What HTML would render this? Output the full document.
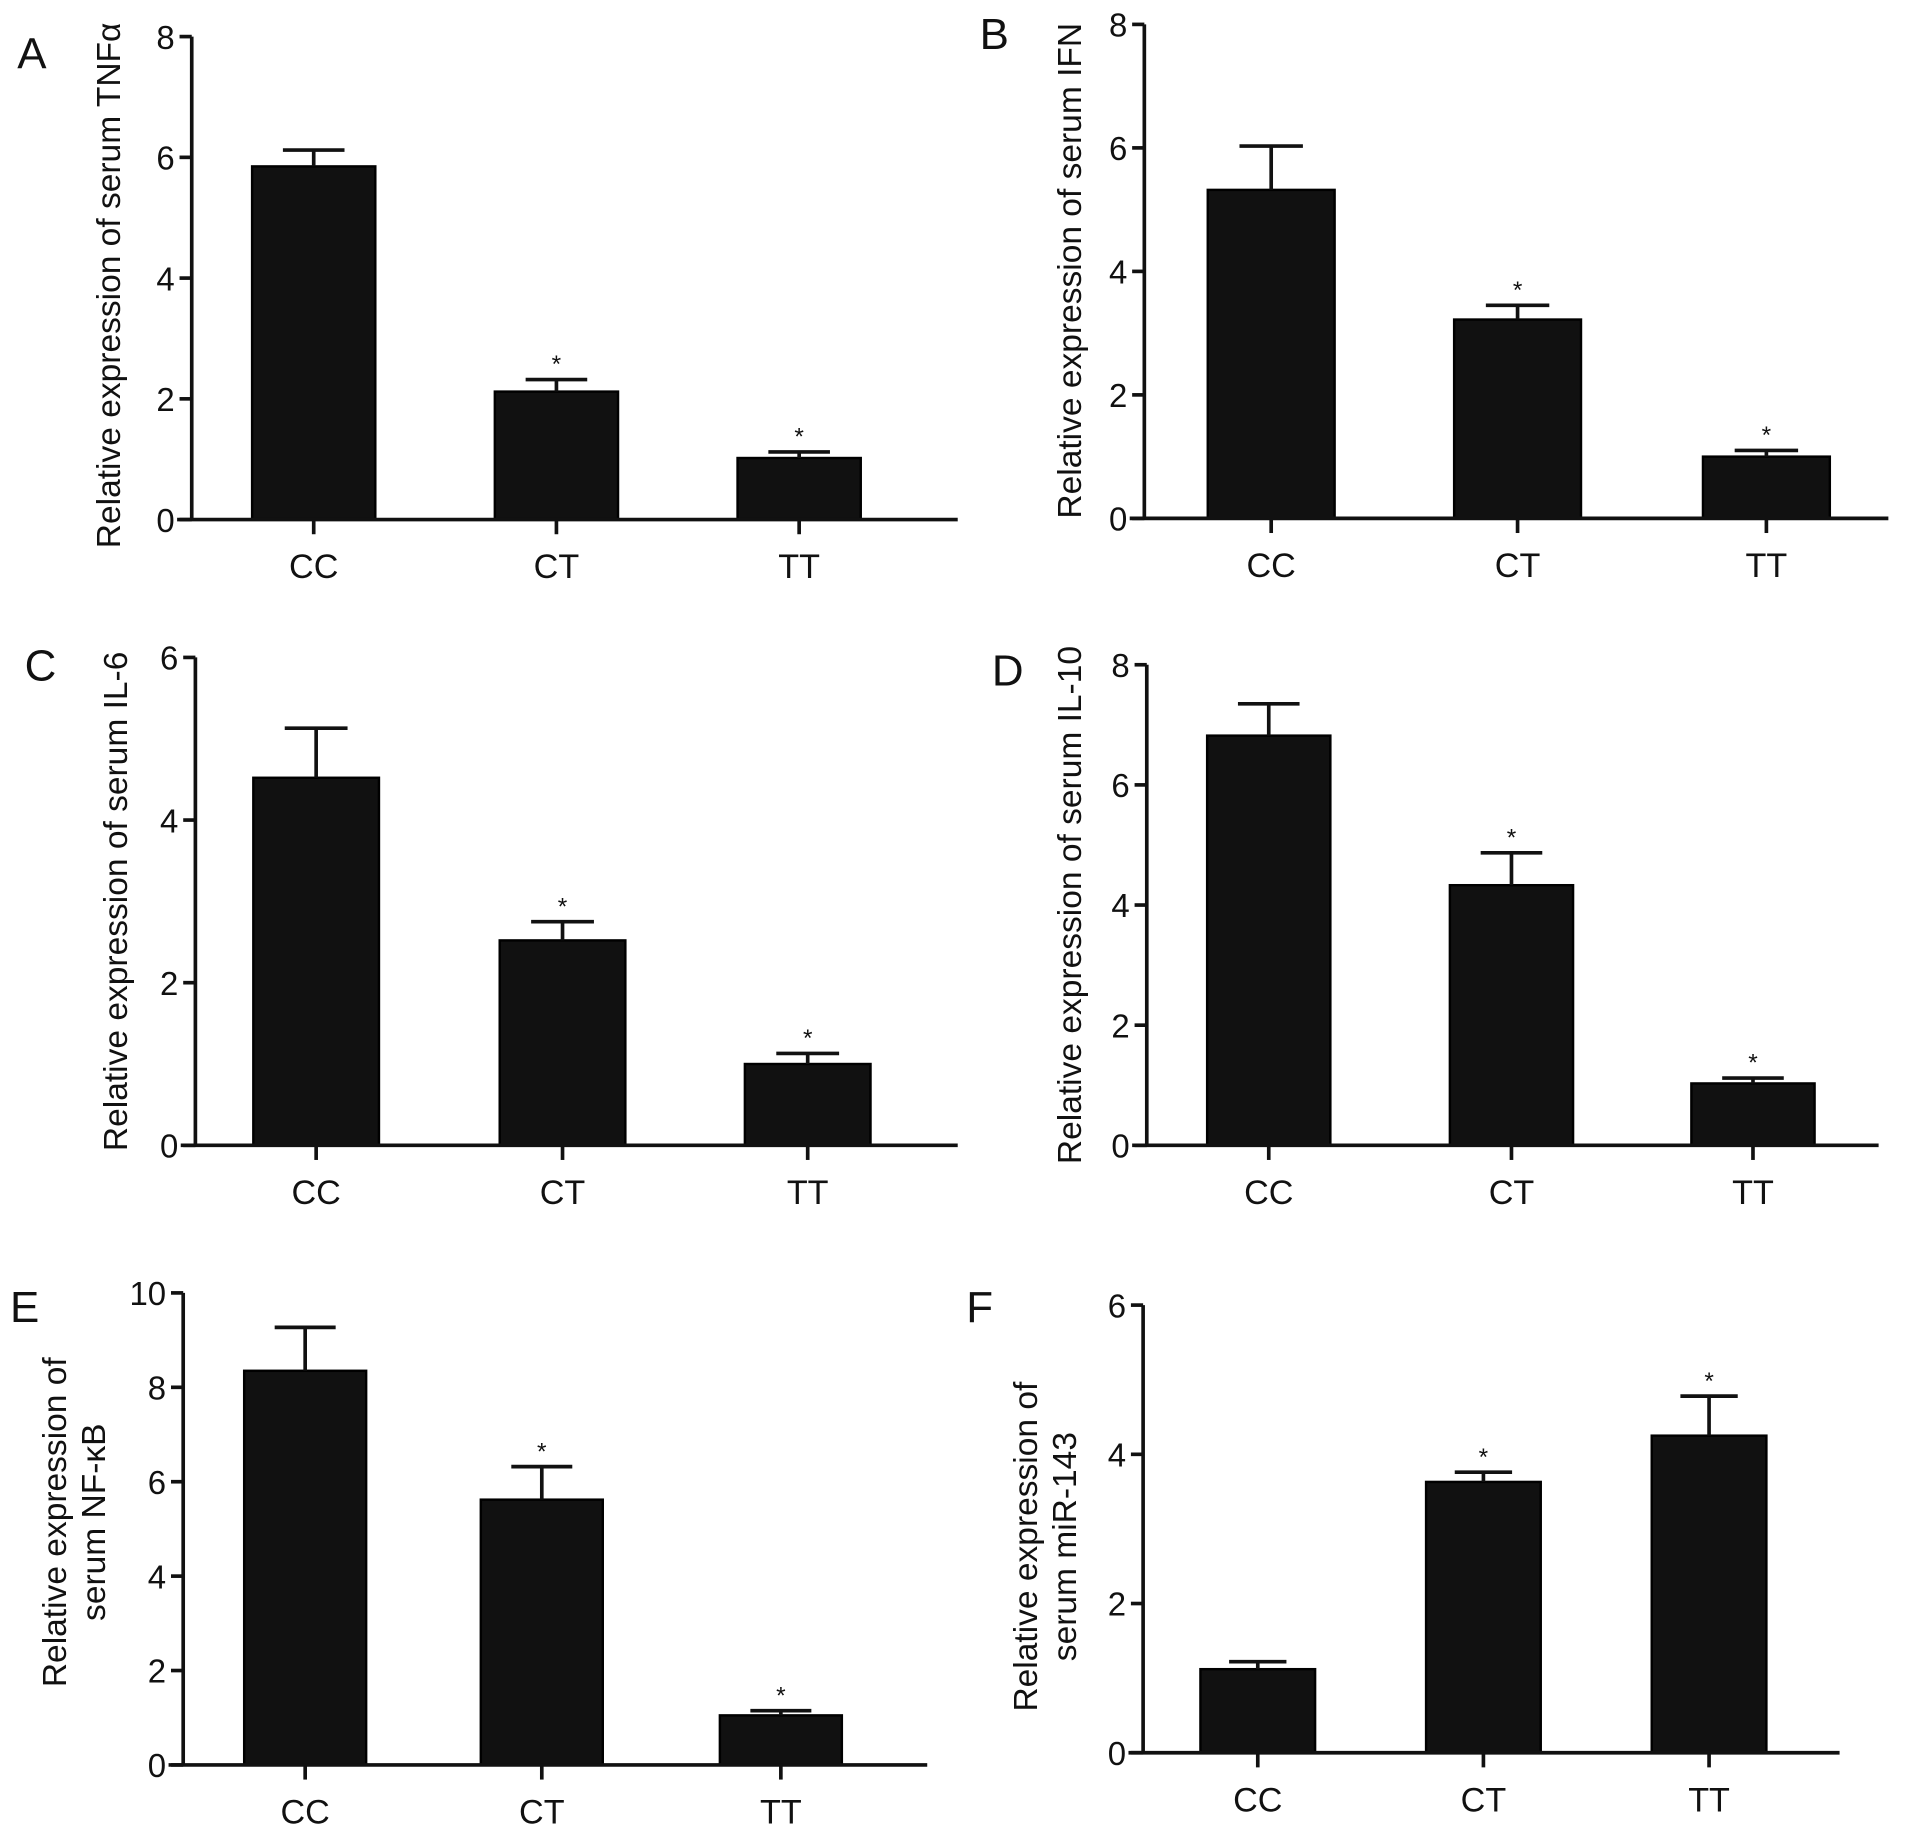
<!DOCTYPE html>
<html><head><meta charset="utf-8"><style>
html,body{margin:0;padding:0;background:#fff}
svg{display:block}
text{font-family:"Liberation Sans",Arial,sans-serif;fill:#111}
</style></head><body>
<svg id="fig" width="1913" height="1843" viewBox="0 0 1568 1511" xmlns="http://www.w3.org/2000/svg"></svg>
<script>
const categories = ["CC","CT","TT"];
const aMeans = [5.85, 2.12, 1.02];
const aErrs = [0.27, 0.20, 0.10];
const aTicks = [0,2,4,6,8];
const bMeans = [5.32, 3.22, 1.0];
const bErrs = [0.71, 0.23, 0.10];
const bTicks = [0,2,4,6,8];
const cMeans = [4.52, 2.52, 1.0];
const cErrs = [0.61, 0.23, 0.13];
const cTicks = [0,2,4,6];
const dMeans = [6.82, 4.33, 1.03];
const dErrs = [0.53, 0.54, 0.09];
const dTicks = [0,2,4,6,8];
const eMeans = [8.35, 5.62, 1.05];
const eErrs = [0.92, 0.70, 0.10];
const eTicks = [0,2,4,6,8,10];
const fMeans = [1.12, 3.63, 4.25];
const fErrs = [0.10, 0.13, 0.53];
const fTicks = [0,2,4,6];
const aStars = [false,true,true];
const fStars = [false,true,true];

const NS="http://www.w3.org/2000/svg";
const svg=document.getElementById('fig');
function mk(tag,attrs,parent){const e=document.createElementNS(NS,tag);for(const k in attrs)e.setAttribute(k,attrs[k]);(parent||svg).appendChild(e);return e;}

function panel(p){
  const g=mk('g',{});
  
  
  const ymax=p.ticks[p.ticks.length-1];
  const y=v=>p.y0-(v/ymax)*(p.y0-p.ytop);
  const bw=p.bw, centers=p.centers;
  const x=i=>centers[i];
  const L=mk('text',{x:p.lx,y:p.ly,'font-size':36},g);L.textContent=p.letter;
  
  
  categories.forEach((c,i)=>{
    const v=p.means[i], e=p.errs[i];
    const r=mk('rect',{x:x(i)-bw/2,y:y(v),width:bw,height:p.y0-y(v),fill:'#111',stroke:'#000','stroke-width':2},g);
    
    
    const eb=mk('path',{d:`M${x(i)} ${y(v)} V${y(v+e)} M${x(i)-bw/4} ${y(v+e)} H${x(i)+bw/4}`,stroke:'#111','stroke-width':3,fill:'none'},g);
    
    
    if(p.stars[i]){
      const s=mk('text',{x:x(i),y:y(v+e)-6,'font-size':20,'text-anchor':'middle'},g);s.textContent='*';
      
      
    }
    mk('line',{x1:x(i),x2:x(i),y1:p.y0,y2:p.y0+12,stroke:'#111','stroke-width':3},g);
    const t=mk('text',{x:x(i),y:p.y0+48,'font-size':28,'text-anchor':'middle'},g);t.textContent=c;
    
    
  });
  const ya=mk('line',{x1:p.ax,x2:p.ax,y1:p.ytop,y2:p.y0,stroke:'#111','stroke-width':3},g);
  
  
  const xa=mk('line',{x1:p.ax-12,x2:p.xend,y1:p.y0,y2:p.y0,stroke:'#111','stroke-width':3},g);
  
  
  p.ticks.forEach(t=>{
    mk('line',{x1:p.ax-10,x2:p.ax,y1:y(t),y2:y(t),stroke:'#111','stroke-width':3},g);
    const tl=mk('text',{x:p.ax-14,y:y(t)+10,'font-size':27,'text-anchor':'end'},g);tl.textContent=t;
    
    
  });
  const tg=mk('g',{transform:`translate(${p.tx},${p.tc||(p.ytop+p.y0)/2}) rotate(-90)`},g);
  p.title.forEach((line,k)=>{
    const tt=mk('text',{x:0,y:k*32-(p.title.length-1)*16+10,'font-size':27.5,'text-anchor':'middle'},tg);tt.textContent=line;
    
    
  });
}
panel({letter:'A',lx:14,ly:56,ax:157,ytop:30,y0:426,xend:785,centers:[257,456,655],bw:101,means:aMeans,errs:aErrs,ticks:aTicks,stars:aStars,tx:88,tc:234,title:['Relative expression of serum TNFα']});
panel({letter:'B',lx:803,ly:40,ax:938,ytop:20,y0:425,xend:1548,centers:[1042,1244,1448],bw:104,means:bMeans,errs:bErrs,ticks:bTicks,stars:aStars,tx:876,tc:222,title:['Relative expression of serum IFN']});
panel({letter:'C',lx:20,ly:558,ax:160,ytop:539,y0:939,xend:785,centers:[259,461,662],bw:103,means:cMeans,errs:cErrs,ticks:cTicks,stars:aStars,tx:94,title:['Relative expression of serum IL-6']});
panel({letter:'D',lx:813,ly:562,ax:940,ytop:545,y0:939,xend:1540,centers:[1040,1239,1437],bw:101,means:dMeans,errs:dErrs,ticks:dTicks,stars:aStars,tx:876,title:['Relative expression of serum IL-10']});
panel({letter:'E',lx:8,ly:1084,ax:150,ytop:1060,y0:1447,xend:760,centers:[250,444,640],bw:100,means:eMeans,errs:eErrs,ticks:eTicks,stars:aStars,tx:60,tc:1248,title:['Relative expression of','serum NF-κB']});
panel({letter:'F',lx:792,ly:1084,ax:937,ytop:1070,y0:1437,xend:1508,centers:[1031,1216,1401],bw:94,means:fMeans,errs:fErrs,ticks:fTicks,stars:fStars,tx:856,tc:1268,title:['Relative expression of','serum miR-143']});
</script>
</body></html>
